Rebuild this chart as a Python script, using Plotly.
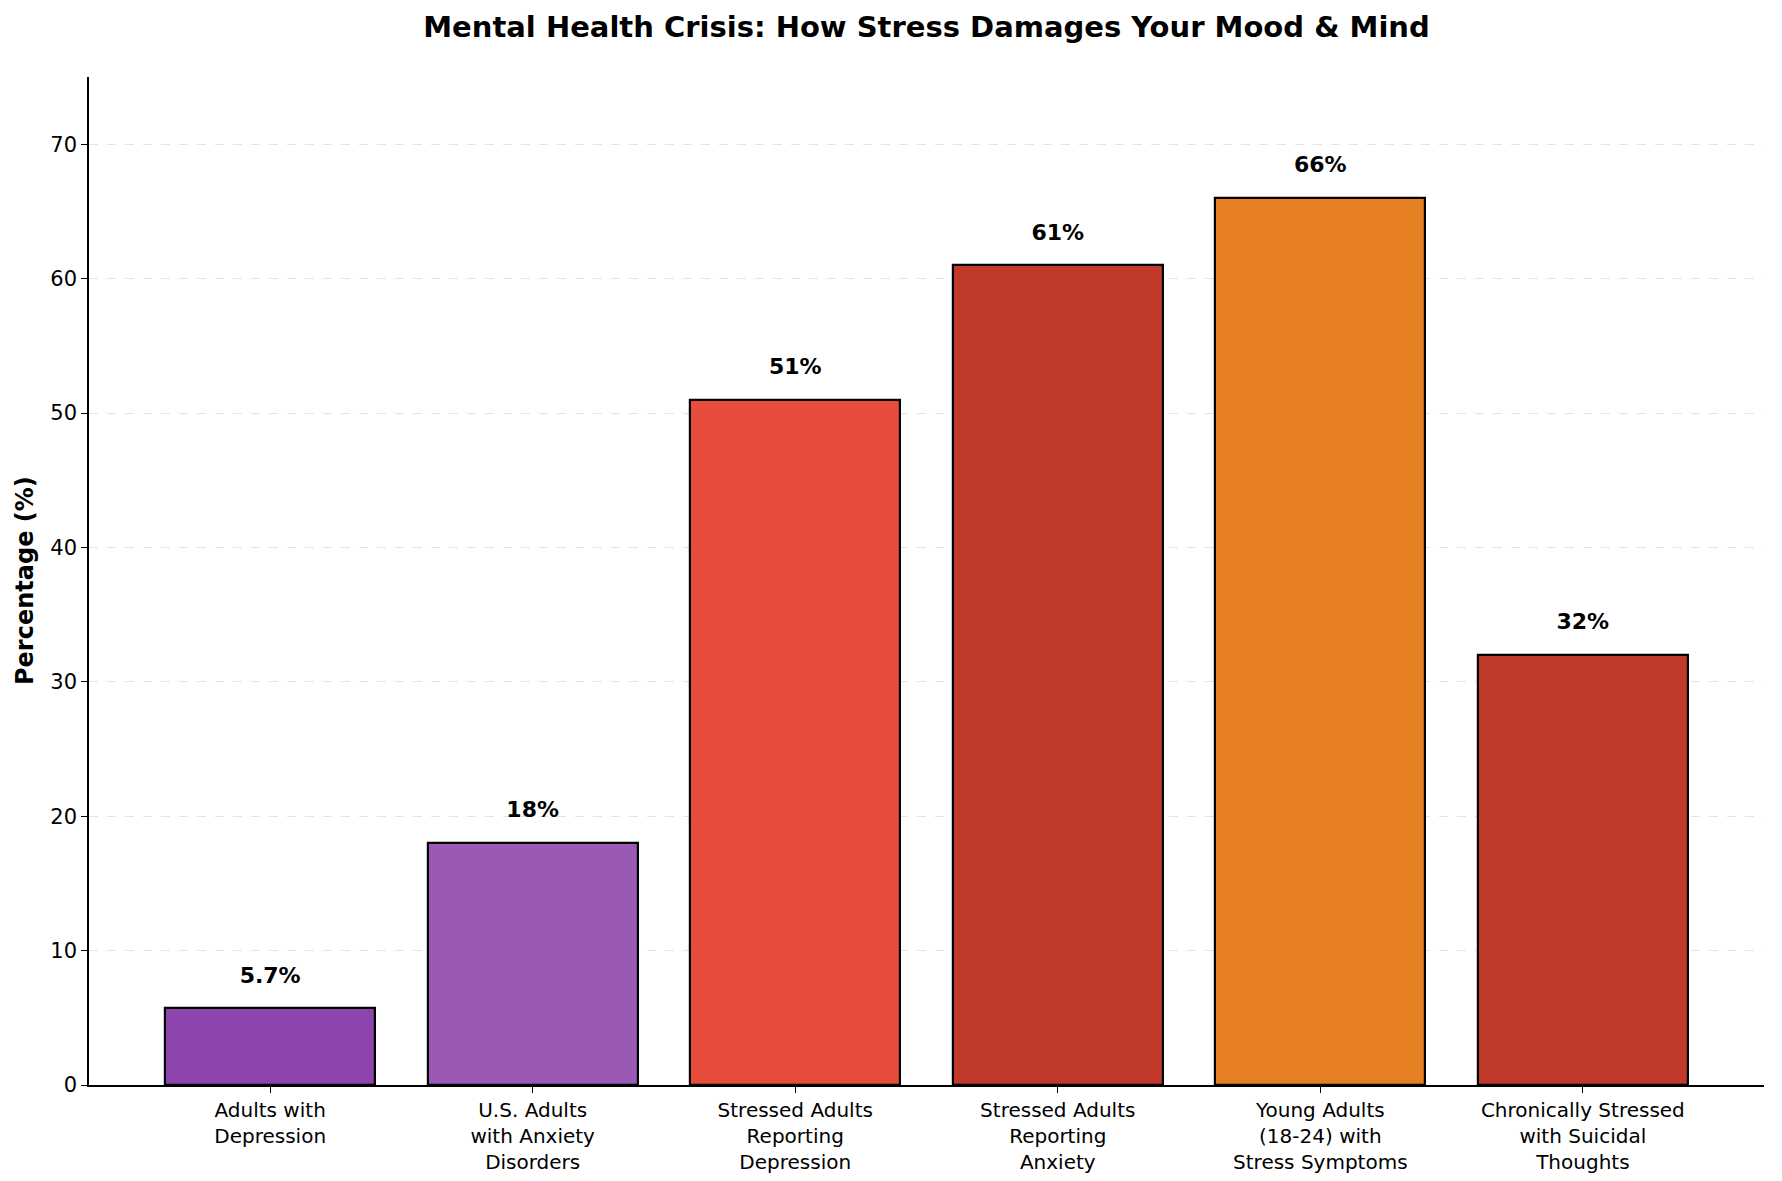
import plotly.graph_objects as go

categories = [
    "Adults with<br>Depression",
    "U.S. Adults<br>with Anxiety<br>Disorders",
    "Stressed Adults<br>Reporting<br>Depression",
    "Stressed Adults<br>Reporting<br>Anxiety",
    "Young Adults<br>(18-24) with<br>Stress Symptoms",
    "Chronically Stressed<br>with Suicidal<br>Thoughts",
]
values = [5.7, 18, 51, 61, 66, 32]
value_labels = ["5.7%", "18%", "51%", "61%", "66%", "32%"]
colors = ["#8E44AD", "#9B59B6", "#E74C3C", "#C0392B", "#E67E22", "#C0392B"]
y_ticks = [0, 10, 20, 30, 40, 50, 60, 70]

FONT = "DejaVu Sans"
xs = list(range(len(categories)))

fig = go.Figure()
fig.add_trace(go.Bar(
    x=xs, y=values, width=0.8,
    marker=dict(color=colors, line=dict(color="black", width=2.2)),
    showlegend=False, hoverinfo="skip",
))
fig.add_trace(go.Scatter(
    x=xs, y=[v + 1.5 for v in values], mode="text",
    text=[f"<b>{t}</b>" for t in value_labels],
    textposition="top center",
    textfont=dict(family=FONT, size=22, color="black"),
    showlegend=False, hoverinfo="skip",
))

fig.update_layout(
    width=1782, height=1181,
    margin=dict(l=89, r=18, t=77, b=96),
    paper_bgcolor="white", plot_bgcolor="white",
    font=dict(family=FONT, size=20, color="black"),
    title=dict(text="<b>Mental Health Crisis: How Stress Damages Your Mood &amp; Mind</b>",
               x=0.5, xref="paper", xanchor="center",
               y=1 - 27 / 1181, yref="container", yanchor="middle",
               font=dict(family=FONT, size=29, color="black")),
    bargap=0,
)
fig.update_xaxes(
    range=[-0.69, 5.69], tickmode="array", tickvals=xs, ticktext=categories,
    showline=True, linecolor="black", linewidth=1.5, mirror=False,
    ticks="outside", ticklen=6, tickwidth=1.3, tickcolor="black",
    showgrid=False, zeroline=False, automargin=False,
    tickfont=dict(family=FONT, size=20, color="black"),
)
fig.update_yaxes(
    range=[0, 75], tickmode="array", tickvals=y_ticks,
    showline=True, linecolor="black", linewidth=1.5,
    ticks="outside", ticklen=6, tickwidth=1.3, tickcolor="black",
    showgrid=True, gridcolor="#e3e3e3", griddash="dash", gridwidth=1.2,
    zeroline=False, automargin=False,
    tickfont=dict(family=FONT, size=21, color="black"),
)
fig.add_annotation(
    text="<b>Percentage (%)</b>", textangle=-90,
    xref="paper", yref="paper", x=(25 - 89) / 1675, y=0.5,
    xanchor="center", yanchor="middle", showarrow=False,
    font=dict(family=FONT, size=24, color="black"),
)

fig.write_html("out.html")
